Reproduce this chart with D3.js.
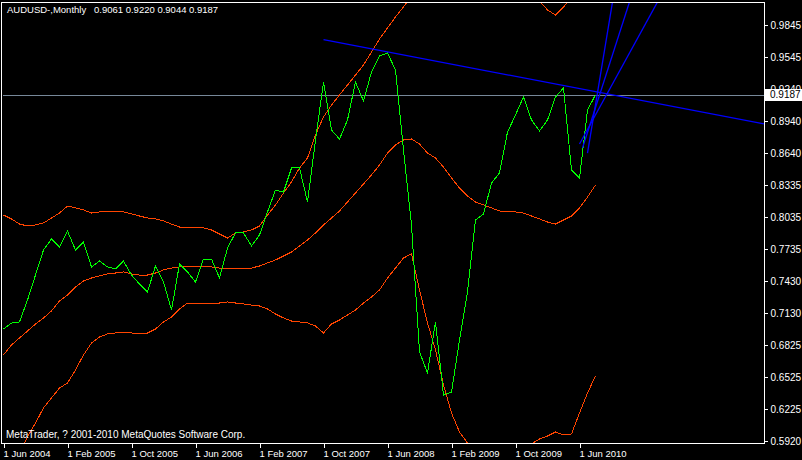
<!DOCTYPE html>
<html><head><meta charset="utf-8">
<script src="https://cdn.jsdelivr.net/npm/d3@7"></script>
<style>html,body{margin:0;padding:0;background:#000;overflow:hidden}</style>
</head><body><svg id="c" width="802" height="460"></svg>
<script>
// ---- data (monthly, first bar = 1 Jun 2004) ----
const closes = [0.6977,0.7033,0.7043,0.7250,0.7486,0.7722,0.7826,0.7750,0.7901,0.7722,
0.7798,0.7562,0.7618,0.7562,0.7543,0.7618,0.7486,0.7401,0.7326,0.7571,
0.7420,0.7156,0.7590,0.7515,0.7420,0.7637,0.7637,0.7458,0.7741,0.7883,
0.7883,0.7760,0.7864,0.8081,0.8288,0.8269,0.8496,0.8496,0.8175,0.8760,
0.9307,0.8854,0.8769,0.8949,0.9307,0.9128,0.9402,0.9553,0.9581,0.9420,
0.8666,0.7958,0.6760,0.6562,0.7043,0.6354,0.6382,0.6873,0.7326,0.8005,
0.8062,0.8354,0.8449,0.8835,0.8996,0.9166,0.8949,0.8845,0.8949,0.9166,
0.9251,0.8477,0.8401,0.9043,0.9187];
const upperBand = [0.8052,0.8015,0.7967,0.7949,0.7958,0.7977,0.8024,0.8071,0.8137,0.8119,
0.8100,0.8071,0.8081,0.8081,0.8081,0.8081,0.8062,0.8043,0.8024,0.8015,
0.7996,0.7967,0.7939,0.7930,0.7930,0.7930,0.7911,0.7873,0.7835,0.7883,
0.7892,0.7911,0.7949,0.8052,0.8147,0.8260,0.8364,0.8496,0.8590,0.8807,
0.8977,0.9090,0.9185,0.9279,0.9373,0.9468,0.9590,0.9713,0.9817,0.9921,
1.0015,1.0119,1.0194,1.0289,1.0421,1.0562,1.0619,1.0609,1.0562,1.0515,
1.0487,1.0440,1.0383,1.0364,1.0326,1.0270,1.0194,1.0072,0.9987,0.9939,
1.0015,1.0109,1.0119,1.0109,1.0138];
const middleBand = [0.6732,0.6826,0.6892,0.6958,0.7024,0.7081,0.7147,0.7241,0.7298,0.7373,
0.7430,0.7458,0.7477,0.7496,0.7505,0.7515,0.7496,0.7486,0.7486,0.7505,
0.7534,0.7552,0.7562,0.7571,0.7571,0.7571,0.7562,0.7552,0.7543,0.7543,
0.7552,0.7552,0.7571,0.7600,0.7628,0.7666,0.7703,0.7760,0.7817,0.7883,
0.7958,0.8024,0.8090,0.8175,0.8260,0.8345,0.8430,0.8524,0.8637,0.8713,
0.8760,0.8770,0.8722,0.8637,0.8590,0.8505,0.8402,0.8307,0.8232,0.8175,
0.8147,0.8119,0.8090,0.8081,0.8081,0.8071,0.8043,0.8015,0.7986,0.7967,
0.8005,0.8043,0.8119,0.8222,0.8336];
const lowerBand = [0.5411,0.5637,0.5816,0.5958,0.6090,0.6232,0.6326,0.6420,0.6467,0.6590,
0.6732,0.6845,0.6901,0.6930,0.6939,0.6939,0.6939,0.6930,0.6939,0.6977,
0.7043,0.7090,0.7166,0.7222,0.7222,0.7222,0.7222,0.7222,0.7232,0.7222,
0.7213,0.7203,0.7194,0.7166,0.7118,0.7081,0.7052,0.7043,0.7034,0.7005,
0.6939,0.7024,0.7062,0.7109,0.7156,0.7222,0.7279,0.7345,0.7458,0.7552,
0.7647,0.7685,0.7345,0.7034,0.6779,0.6449,0.6184,0.6005,0.5901,0.5835,
0.5807,0.5798,0.5798,0.5798,0.5835,0.5873,0.5892,0.5939,0.5967,0.6005,
0.5977,0.5986,0.6184,0.6373,0.6533];
const xTickIndex = [0,8,16,24,32,40,48,56,64,72];
const xTickLabels = ["1 Jun 2004","1 Feb 2005","1 Oct 2005","1 Jun 2006","1 Feb 2007","1 Oct 2007","1 Jun 2008","1 Feb 2009","1 Oct 2009","1 Jun 2010"];
const yTickValues = [0.9845,0.9545,0.9240,0.8940,0.8640,0.8335,0.8035,0.7735,0.7430,0.7130,0.6825,0.6525,0.6225,0.5920];
const lastPrice = 0.9187;
const titleSymbol = "AUDUSD-,Monthly";
const titleOHLC = "0.9061 0.9220 0.9044 0.9187";
const copyright = "MetaTrader, ? 2001-2010 MetaQuotes Software Corp.";
const trendLine = [[40, 0.9706], [74, 0.9216]];
const fanLines = [
  [[73.0, 0.8637], [76.125, 1.0062]],
  [[72.375, 0.8684], [78.25, 1.0062]],
  [[72.0, 0.8722], [81.75, 1.0062]]
];

// ---- chart ----
const FONT = "Liberation Sans, Arial, sans-serif";
const svg = d3.select("#c");
svg.append("rect").attr("width",802).attr("height",460).attr("fill","#000");

const L = 2, T = 2, R = 764, B = 443;
const x = d3.scaleLinear().domain([0, 72]).range([3.5, 579.5]);
const y = d3.scaleLinear().domain([0.5920, 0.9845]).range([441, 25]);

svg.append("defs").append("clipPath").attr("id","clip")
  .append("rect").attr("x",L+1).attr("y",T+1).attr("width",R-L-1).attr("height",B-T-1);

const plot = svg.append("g").attr("clip-path","url(#clip)");

// bid line
plot.append("line").attr("x1",L).attr("x2",R).attr("y1",Math.round(y(lastPrice))+0.5).attr("y2",Math.round(y(lastPrice))+0.5)
  .attr("stroke","#778899").attr("stroke-width",1);

const line = d3.line().x((d,i)=>x(i)).y(d=>y(d));
[upperBand, middleBand, lowerBand].forEach(arr=>{
  plot.append("path").attr("d", line(arr)).attr("fill","none")
    .attr("stroke","#FF4500").attr("stroke-width",1).attr("shape-rendering","crispEdges");
});
plot.append("path").attr("d", line(closes)).attr("fill","none")
  .attr("stroke","#00FF00").attr("stroke-width",1).attr("shape-rendering","crispEdges");

// trend line (ray to the right)
{
  const [a,b] = trendLine;
  const x1 = x(a[0]), y1 = y(a[1]), x2 = x(b[0]), y2 = y(b[1]);
  const s = (y2-y1)/(x2-x1);
  plot.append("line").attr("x1",x1).attr("y1",y1).attr("x2",R).attr("y2",y1 + s*(R-x1))
    .attr("stroke","#0000FF").attr("stroke-width",1.3);
}
// fan lines (rays upward)
fanLines.forEach(([a,b])=>{
  const x1 = x(a[0]), y1 = y(a[1]), x2 = x(b[0]), y2 = y(b[1]);
  const t = 3;
  plot.append("line").attr("x1",x1).attr("y1",y1)
    .attr("x2",x1 + (x2-x1)*t).attr("y2",y1 + (y2-y1)*t)
    .attr("stroke","#0000FF").attr("stroke-width",1.3);
});

// frame
svg.append("rect").attr("x",L-0.5).attr("y",T+0.5).attr("width",R-L+1).attr("height",B-T)
  .attr("fill","none").attr("stroke","#fff").attr("stroke-width",1).attr("shape-rendering","crispEdges");

// right axis
const yAxis = svg.append("g").attr("transform",`translate(${R+0.5},0)`)
  .call(d3.axisRight(y).tickValues(yTickValues).tickFormat(d3.format(".4f")).tickSize(3).tickPadding(3));
yAxis.select(".domain").remove();
yAxis.selectAll("line").attr("stroke","#fff").attr("shape-rendering","crispEdges");
yAxis.selectAll("text").attr("fill","#fff").attr("font-family",FONT).attr("font-size",10).attr("dy","0.34em");

// last price label
const ly = y(lastPrice);
svg.append("rect").attr("x",R+1).attr("y",Math.round(ly)-6).attr("width",37).attr("height",12).attr("fill","#fff");
svg.append("text").attr("x",R+6).attr("y",ly).attr("dy","0.34em").attr("fill","#000")
  .attr("font-family",FONT).attr("font-size",10).text(d3.format(".4f")(lastPrice));

// bottom axis
const xAxis = svg.append("g").attr("transform",`translate(0,${B+0.5})`)
  .call(d3.axisBottom(x).tickValues(xTickIndex).tickFormat((d,i)=>xTickLabels[i]).tickSize(4));
xAxis.select(".domain").remove();
xAxis.selectAll("line").attr("stroke","#fff").attr("shape-rendering","crispEdges");
xAxis.selectAll("text").attr("fill","#fff").attr("font-family",FONT).attr("font-size",9.5)
  .attr("text-anchor","start").attr("x",-0.5).attr("y",7).attr("dy","0.71em");

// texts
svg.append("text").attr("x",7).attr("y",13).attr("fill","#fff").attr("font-family",FONT).attr("font-size",9.5).text(titleSymbol);
svg.append("text").attr("x",94).attr("y",13).attr("fill","#fff").attr("font-family",FONT).attr("font-size",9.5).text(titleOHLC);
svg.append("text").attr("x",6).attr("y",438).attr("fill","#fff").attr("font-family",FONT).attr("font-size",10).text(copyright);
</script></body></html>
